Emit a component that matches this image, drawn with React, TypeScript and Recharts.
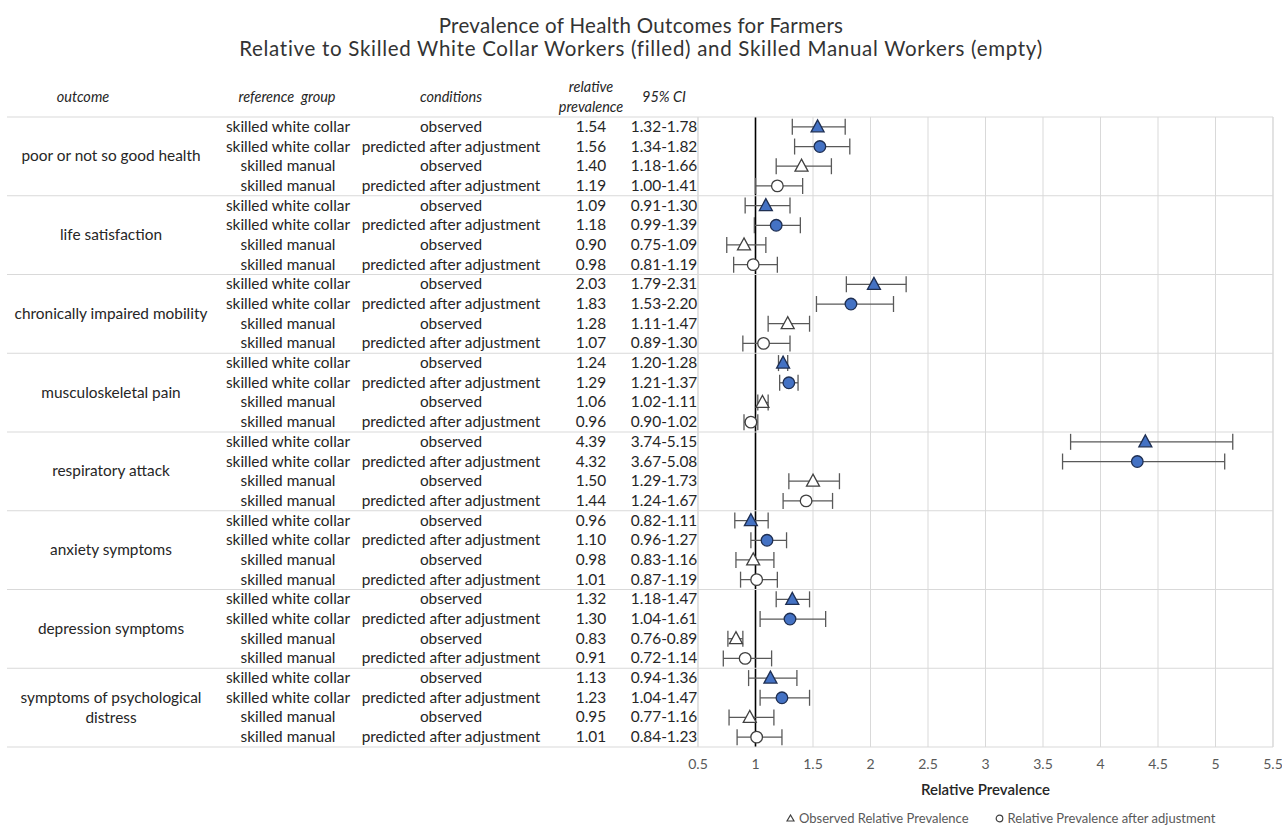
import { CartesianGrid, ComposedChart, ErrorBar, ReferenceLine, Scatter, XAxis, YAxis } from "recharts";

const outcomes = [
  "poor or not so good health",
  "life satisfaction",
  "chronically impaired mobility",
  "musculoskeletal pain",
  "respiratory attack",
  "anxiety symptoms",
  "depression symptoms",
  "symptoms of psychological distress",
];
const referenceGroups = ["skilled white collar", "skilled white collar", "skilled manual", "skilled manual"];
const conditions = ["observed", "predicted after adjustment", "observed", "predicted after adjustment"];

const relativePrevalence = [
  1.54, 1.56, 1.4, 1.19,
  1.09, 1.18, 0.9, 0.98,
  2.03, 1.83, 1.28, 1.07,
  1.24, 1.29, 1.06, 0.96,
  4.39, 4.32, 1.5, 1.44,
  0.96, 1.1, 0.98, 1.01,
  1.32, 1.3, 0.83, 0.91,
  1.13, 1.23, 0.95, 1.01,
];
const ciLow = [
  1.32, 1.34, 1.18, 1.0,
  0.91, 0.99, 0.75, 0.81,
  1.79, 1.53, 1.11, 0.89,
  1.2, 1.21, 1.02, 0.9,
  3.74, 3.67, 1.29, 1.24,
  0.82, 0.96, 0.83, 0.87,
  1.18, 1.04, 0.76, 0.72,
  0.94, 1.04, 0.77, 0.84,
];
const ciHigh = [
  1.78, 1.82, 1.66, 1.41,
  1.3, 1.39, 1.09, 1.19,
  2.31, 2.2, 1.47, 1.3,
  1.28, 1.37, 1.11, 1.02,
  5.15, 5.08, 1.73, 1.67,
  1.11, 1.27, 1.16, 1.19,
  1.47, 1.61, 0.89, 1.14,
  1.36, 1.47, 1.16, 1.23,
];
const xTicks = [0.5, 1, 1.5, 2, 2.5, 3, 3.5, 4, 4.5, 5, 5.5];

const rows = relativePrevalence.map((value, i) => ({
  row: i,
  value,
  err: [value - ciLow[i], ciHigh[i] - value],
}));
const seriesFor = (slot: number) => rows.filter((r) => r.row % 4 === slot);
const rowIds = rows.map((r) => r.row);

const FONT = "Lato, 'Open Sans', sans-serif";
const TEXT = "#262626";
const GRID = "#d9d9d9";
const BLUE = "#4472c4";

const CHART_W = 1282;
const CHART_H = 827;
const MARGIN = { top: 117, right: 9, bottom: 30, left: 0 };
const X_AXIS_H = 50;
const PLOT_RIGHT = CHART_W - MARGIN.right;
const ROW_H = (CHART_H - MARGIN.top - MARGIN.bottom - X_AXIS_H) / rows.length;

const cellStyle = { fontFamily: FONT, fontSize: 15.4, fill: TEXT };

// one tick per row: draws the table cells, plus the outcome label and group rules
function RowTick(props: { y?: number; payload?: { value: number } }) {
  const i = props.payload?.value ?? 0;
  const cy = props.y ?? 0;
  const y = cy + 5;
  const outcome = outcomes[Math.floor(i / 4)];
  const words = outcome === "symptoms of psychological distress" ? ["symptoms of psychological", "distress"] : [outcome];
  return (
    <g style={cellStyle}>
      {i % 4 === 0 && <line x1={7} x2={PLOT_RIGHT} y1={cy - ROW_H / 2} y2={cy - ROW_H / 2} stroke={GRID} />}
      {i === rows.length - 1 && <line x1={7} x2={PLOT_RIGHT} y1={cy + ROW_H / 2} y2={cy + ROW_H / 2} stroke={GRID} />}
      {i % 4 === 1 &&
        words.map((w, k) => (
          <text key={w} x={111} y={y + ROW_H / 2 + (k - (words.length - 1) / 2) * 20} textAnchor="middle">
            {w}
          </text>
        ))}
      <text x={288} y={y} textAnchor="middle">{referenceGroups[i % 4]}</text>
      <text x={451} y={y} textAnchor="middle">{conditions[i % 4]}</text>
      <text x={591} y={y} textAnchor="middle">{relativePrevalence[i].toFixed(2)}</text>
      <text x={664} y={y} textAnchor="middle">{`${ciLow[i].toFixed(2)}-${ciHigh[i].toFixed(2)}`}</text>
    </g>
  );
}

function Triangle({ cx = 0, cy = 0, filled }: { cx?: number; cy?: number; filled: boolean }) {
  return (
    <polygon
      points={`${cx},${cy - 7} ${cx - 6.5},${cy + 5} ${cx + 6.5},${cy + 5}`}
      fill={filled ? BLUE : "#fff"}
      stroke={filled ? "#1f2f52" : "#404040"}
      strokeWidth={1.3}
    />
  );
}

function Dot({ cx = 0, cy = 0, filled }: { cx?: number; cy?: number; filled: boolean }) {
  return <circle cx={cx} cy={cy} r={5.8} fill={filled ? BLUE : "#fff"} stroke={filled ? "#1f2f52" : "#404040"} strokeWidth={1.3} />;
}

const series = [
  { slot: 0, shape: (p: any) => <Triangle cx={p.cx} cy={p.cy} filled /> },
  { slot: 1, shape: (p: any) => <Dot cx={p.cx} cy={p.cy} filled /> },
  { slot: 2, shape: (p: any) => <Triangle cx={p.cx} cy={p.cy} filled={false} /> },
  { slot: 3, shape: (p: any) => <Dot cx={p.cx} cy={p.cy} filled={false} /> },
];

const header = { position: "absolute" as const, fontFamily: FONT, fontSize: 14.5, fontStyle: "italic", color: TEXT, textAlign: "center" as const, lineHeight: "20px" };

export default function App() {
  return (
    <div style={{ position: "absolute", left: 0, top: 0, width: CHART_W, height: CHART_H, background: "#fff", fontFamily: FONT }}>
      <div style={{ position: "absolute", left: 0, top: 14, width: CHART_W, textAlign: "center", fontSize: 20.5, lineHeight: "23px", color: "#333" }}>
        <div style={{ letterSpacing: 0.3 }}>Prevalence of Health Outcomes for Farmers</div>
        <div style={{ letterSpacing: 0.7 }}>Relative to Skilled White Collar Workers (filled) and Skilled Manual Workers (empty)</div>
      </div>

      <div style={{ ...header, left: 23, top: 87, width: 120 }}>outcome</div>
      <div style={{ ...header, left: 207, top: 87, width: 160 }}>reference&nbsp; group</div>
      <div style={{ ...header, left: 381, top: 87, width: 140 }}>conditions</div>
      <div style={{ ...header, left: 546, top: 77, width: 90 }}>
        relative
        <br />
        prevalence
      </div>
      <div style={{ ...header, left: 619, top: 87, width: 90 }}>95% CI</div>

      <ComposedChart width={CHART_W} height={CHART_H} margin={MARGIN} style={{ position: "absolute", left: 0, top: 0 }}>
        <CartesianGrid yAxisId="rows" vertical horizontal={false} stroke={GRID} />
        <XAxis
          type="number"
          dataKey="value"
          domain={[0.5, 5.5]}
          ticks={xTicks}
          interval={0}
          axisLine={false}
          tickLine={false}
          tickMargin={6}
          height={X_AXIS_H}
          tick={{ fontFamily: FONT, fontSize: 14, fill: "#595959" }}
          label={{ value: "Relative Prevalence", position: "insideBottom", offset: 2, fontFamily: FONT, fontSize: 15, fontWeight: 600, fill: TEXT }}
        />
        <YAxis
          yAxisId="rows"
          type="number"
          dataKey="row"
          domain={[-0.5, rows.length - 0.5]}
          reversed
          ticks={rowIds}
          interval={0}
          width={698}
          axisLine={false}
          tickLine={false}
          tick={<RowTick />}
        />
        <ReferenceLine yAxisId="rows" x={0.5} stroke={GRID} />
        <ReferenceLine yAxisId="rows" x={5.5} stroke={GRID} />
        <ReferenceLine yAxisId="rows" x={1} stroke="#000" strokeWidth={1.6} />
        {series.map((s) => (
          <Scatter key={s.slot} yAxisId="rows" data={seriesFor(s.slot)} shape={s.shape} isAnimationActive={false}>
            <ErrorBar dataKey="err" direction="x" width={8} stroke="#595959" strokeWidth={1.3} />
          </Scatter>
        ))}
      </ComposedChart>

      <div style={{ position: "absolute", left: 786, top: 810, fontSize: 13, color: "#595959", display: "flex", alignItems: "center", gap: 4, whiteSpace: "nowrap" }}>
        <svg width={9} height={8}>
          <polygon points="4.5,1 1,7 8,7" fill="#fff" stroke="#404040" strokeWidth={1.2} />
        </svg>
        <span>Observed Relative Prevalence</span>
        <span style={{ width: 18 }} />
        <svg width={9} height={9}>
          <circle cx={4.5} cy={4.5} r={3.3} fill="#fff" stroke="#404040" strokeWidth={1.2} />
        </svg>
        <span>Relative Prevalence after adjustment</span>
      </div>
    </div>
  );
}
